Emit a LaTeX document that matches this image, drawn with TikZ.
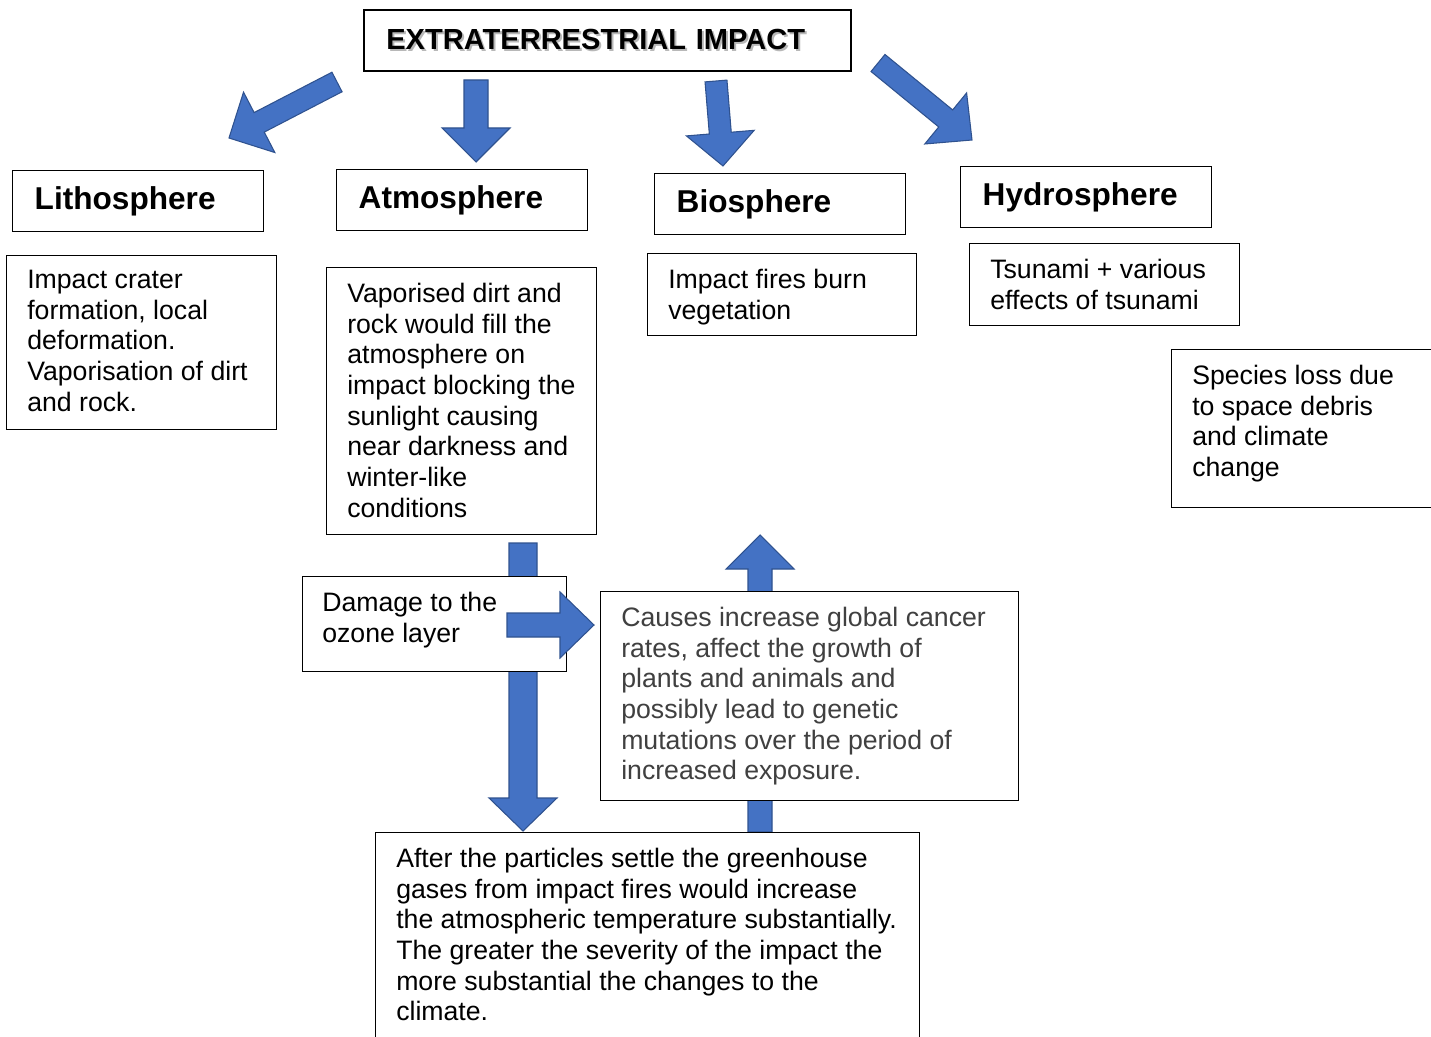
\documentclass[tikz,border=0pt]{standalone}
\usepackage{fontspec}
\setmainfont{Liberation Sans}
\usetikzlibrary{calc}

\newcommand{\px}{0.75pt}
\definecolor{arrowblue}{HTML}{4472C4}
\definecolor{arrowedge}{HTML}{2F528F}
\definecolor{notegray}{HTML}{404040}

\tikzset{
  panel/.style={draw, line width=1.1pt, fill=white, inner sep=0pt, anchor=north west},
  sphere/.style={panel, minimum height=61*\px, text width=207*\px, inner xsep=22*\px,
    inner ysep=0pt, align=left, font=\bfseries\fontsize{23.7}{27}\selectfont},
  headline/.style={anchor=north west, inner sep=0pt, minimum height=58*\px, text width=443*\px,
    inner xsep=22*\px, align=left, font=\bfseries\fontsize{21.8}{25}\selectfont},
  note/.style={anchor=north west, inner sep=0pt, align=left, font=\fontsize{20}{23}\selectfont},
  blockarrow/.style={fill=arrowblue, draw=arrowedge, line width=0.8pt, line join=miter},
}

% block arrow: tail, tip, half shaft, half head, head length (px)
\newcommand{\blockarrow}[5]{%
  \path ($(#2)!#5*\px!(#1)$) coordinate (ba-base);
  \filldraw[blockarrow] ($(#1)!#3*\px!90:(#2)$) -- ($(ba-base)!#3*\px!90:(#2)$)
    -- ($(ba-base)!#4*\px!90:(#2)$) -- (#2) -- ($(ba-base)!#4*\px!-90:(#2)$)
    -- ($(ba-base)!#3*\px!-90:(#2)$) -- ($(#1)!#3*\px!-90:(#2)$) -- cycle;
}

\begin{document}
\begin{tikzpicture}[x=0.75pt, y=-0.75pt]
\useasboundingbox (0,0) rectangle (1431,1037);
\clip (0,0) rectangle (1431,1037);

% arrows behind the boxes
\coordinate (downs) at (523,543);
\coordinate (downe) at (523,831);
\coordinate (ups) at (760,832);
\coordinate (upe) at (760,535);
\blockarrow{downs}{downe}{14}{34}{33}
\blockarrow{ups}{upe}{12}{34}{34}

% title with its soft shadow
\node[headline, text=black!28] (titleshadow) at (366,12) {EXTRATERRESTRIAL IMPACT};
\node[headline] (title) at (364,10) {EXTRATERRESTRIAL IMPACT};
\draw[line width=1.4pt] (364,10) rectangle (851,71);

% spheres
\node[sphere] (litho) at (12,170) {Lithosphere};
\node[sphere] (atmo) at (336,169) {Atmosphere};
\node[sphere] (bio) at (654,173) {Biosphere};
\node[sphere] (hydro) at (960,166) {Hydrosphere};

% effect boxes
\node[panel, minimum width=270*\px, minimum height=174*\px] (lithobox) at (6,255) {};
\node[note] (lithotxt) at ([shift={(21,15)}]lithobox.north west)
  {Impact crater\\formation, local\\deformation.\\Vaporisation of dirt\\and rock.};

\node[panel, minimum width=270*\px, minimum height=267*\px] (atmobox) at (326,267) {};
\node[note] (atmotxt) at ([shift={(21,16)}]atmobox.north west)
  {Vaporised dirt and\\rock would fill the\\atmosphere on\\impact blocking the\\sunlight causing\\near darkness and\\winter-like\\conditions};

\node[panel, minimum width=269*\px, minimum height=82*\px] (biobox) at (647,253) {};
\node[note] (biotxt) at ([shift={(21,16)}]biobox.north west)
  {Impact fires burn\\vegetation};

\node[panel, minimum width=270*\px, minimum height=82*\px] (hydrobox) at (969,243) {};
\node[note] (hydrotxt) at ([shift={(21,16)}]hydrobox.north west)
  {Tsunami + various\\effects of tsunami};

\node[panel, minimum width=275*\px, minimum height=158*\px] (speciesbox) at (1171,349) {};
\node[note] (speciestxt) at ([shift={(21,16)}]speciesbox.north west)
  {Species loss due\\to space debris\\and climate\\change};

\node[panel, minimum width=264*\px, minimum height=95*\px] (ozonebox) at (302,576) {};
\node[note] (ozonetxt) at ([shift={(20,16)}]ozonebox.north west)
  {Damage to the\\ozone layer};

\node[panel, minimum width=418*\px, minimum height=209*\px] (cancerbox) at (600,591) {};
\node[note, text=notegray] (cancertxt) at ([shift={(21,16)}]cancerbox.north west)
  {Causes increase global cancer\\rates, affect the growth of\\plants and animals and\\possibly lead to genetic\\mutations over the period of\\increased exposure.};

\node[panel, minimum width=544*\px, minimum height=230*\px] (climatebox) at (375,832) {};
\node[note] (climatetxt) at ([shift={(21,16)}]climatebox.north west)
  {After the particles settle the greenhouse\\gases from impact fires would increase\\the atmospheric temperature substantially.\\The greater the severity of the impact the\\more substantial the changes to the\\climate.};

% arrows in front
\coordinate (a1s) at (337,82);
\coordinate (a1e) at (229,138);
\coordinate (a2s) at (476,80);
\coordinate (a2e) at (476,162);
\coordinate (a3s) at (716,81);
\coordinate (a3e) at (723,166);
\coordinate (a4s) at (878,63);
\coordinate (a4e) at (972,140);
\coordinate (rights) at (507,625);
\coordinate (righte) at (594,625);
\blockarrow{a1s}{a1e}{11}{34}{34}
\blockarrow{a2s}{a2e}{12}{34}{34}
\blockarrow{a3s}{a3e}{11}{34}{33}
\blockarrow{a4s}{a4e}{11}{33}{34}
\blockarrow{rights}{righte}{12}{33}{34}
\end{tikzpicture}
\end{document}
